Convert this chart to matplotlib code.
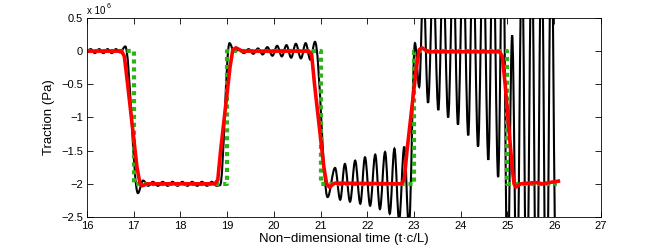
import matplotlib
matplotlib.use('Agg')
import matplotlib.pyplot as plt
from matplotlib.path import Path
from matplotlib.patches import PathPatch

plt.rcParams['font.family'] = ['Liberation Sans', 'DejaVu Sans']

# exact solution (square wave), units of 1e6 Pa
exact_t = [16.0, 17.0, 17.0, 19.0, 19.0, 21.0, 21.0, 23.0, 23.0, 25.0, 25.0, 26.05]
exact_v = [0.0, 0.0, -2.0, -2.0, 0.0, 0.0, -2.0, -2.0, 0.0, 0.0, -2.0, -2.0]

# raw numerical traction: turning points
raw_t = [16.00, 16.08, 16.17, 16.26, 16.35, 16.44, 16.53, 16.62, 16.71, 16.82,
         17.09, 17.20, 17.31, 17.41, 17.52, 17.62, 17.73, 17.83, 17.94, 18.04,
         18.15, 18.25, 18.36, 18.46, 18.57, 18.67, 18.78, 18.85,
         19.05, 19.15, 19.25, 19.36, 19.46, 19.56, 19.66, 19.76, 19.86, 19.97,
         20.07, 20.17, 20.27, 20.37, 20.47, 20.58, 20.68, 20.78, 20.88,
         21.15, 21.31, 21.42, 21.52, 21.63, 21.74, 21.85, 21.95, 22.06, 22.17,
         22.27, 22.38, 22.48, 22.58, 22.68, 22.79, 22.89,
         23.02, 23.11, 23.20, 23.30, 23.41, 23.52, 23.62, 23.73, 23.84, 23.94,
         24.05, 24.16, 24.26, 24.37, 24.48, 24.59, 24.69, 24.80, 24.90,
         25.00, 25.10, 25.20, 25.31, 25.41, 25.52, 25.62, 25.73, 25.83, 25.94, 26.03]
raw_v = [0.00, 0.03, -0.03, 0.03, -0.03, 0.03, -0.03, 0.03, -0.02, 0.07,
         -2.14, -1.95, -2.03, -1.97, -2.03, -1.97, -2.03, -1.97, -2.03, -1.97,
         -2.03, -1.97, -2.03, -1.97, -2.03, -1.97, -2.03, -2.02,
         0.12, -0.01, 0.02, -0.03, 0.03, -0.04, 0.04, -0.05, 0.06, -0.07,
         0.08, -0.08, 0.09, -0.10, 0.11, -0.11, 0.12, -0.13, 0.14,
         -2.20, -1.76, -2.24, -1.70, -2.27, -1.65, -2.30, -1.60, -2.33, -1.56,
         -2.38, -1.52, -2.45, -1.47, -2.55, -1.44, -2.65,
         0.12, -0.54, 1.00, -0.78, 1.10, -0.89, 1.20, -1.00, 1.30, -1.11,
         1.40, -1.27, 1.50, -1.44, 1.60, -1.64, 1.80, -1.90, 2.00,
         -3.50, 0.24, -3.80, 1.50, -4.00, 1.70, -4.20, 1.80, -4.40, 2.00, -3.00]

# filtered traction
filt_t = [16.00, 16.74, 16.80, 16.87, 17.07, 17.13, 17.18, 17.28,
          18.74, 18.80, 18.86, 19.06, 19.12, 19.19, 19.32,
          20.75, 20.81, 20.87, 21.07, 21.13, 21.19, 21.30,
          22.73, 22.79, 22.85, 23.05, 23.11, 23.17, 23.30,
          24.83, 24.89, 24.95, 25.10, 25.14, 25.18, 25.28,
          25.45, 25.60, 25.75, 25.90, 26.09]
filt_v = [0.00, 0.00, -0.08, -0.50, -1.75, -1.98, -2.03, -2.00,
          -2.00, -1.94, -1.50, -0.25, 0.02, 0.05, 0.00,
          0.00, -0.06, -0.50, -1.75, -2.00, -2.05, -1.99,
          -2.00, -1.94, -1.50, -0.25, 0.02, 0.05, -0.01,
          -0.01, -0.08, -0.50, -1.75, -2.00, -2.05, -2.00,
          -1.99, -1.98, -2.00, -1.98, -1.96]


def turning_point_path(t, v):
    """smooth path through turning points (flat tangent at each one)"""
    verts = [(t[0], v[0])]
    codes = [Path.MOVETO]
    for i in range(1, len(t)):
        d = t[i] - t[i - 1]
        verts += [(t[i - 1] + 0.36 * d, v[i - 1]), (t[i] - 0.36 * d, v[i]), (t[i], v[i])]
        codes += [Path.CURVE4] * 3
    return Path(verts, codes)


fig = plt.figure(figsize=(6.64, 2.49), dpi=100)
ax = fig.add_axes([0.131, 0.1285, 0.774, 0.7995])

ax.add_patch(PathPatch(turning_point_path(raw_t, raw_v), facecolor='none',
                       edgecolor='black', lw=1.5))
ax.plot(exact_t, exact_v, color='#2db31a', lw=3, linestyle=(0, (1, 0.9)),
        dash_capstyle='butt')
ax.plot(filt_t, filt_v, color='#ff0000', lw=2.6, solid_joinstyle='round')

ax.set_xlim(16, 27)
ax.set_ylim(-2.5, 0.5)
ax.set_xticks(range(16, 28))
ax.set_yticks([-2.5, -2, -1.5, -1, -0.5, 0, 0.5])
ax.set_yticklabels(['\u22122.5', '\u22122', '\u22121.5', '\u22121', '\u22120.5', '0', '0.5'])
ax.tick_params(direction='in', top=True, right=True, length=4, width=0.6,
               labelsize=8, pad=3)
for s in ax.spines.values():
    s.set_linewidth(0.6)

ax.set_xlabel('Non\u2212dimensional time (t\u00b7c/L)', fontsize=9.5, labelpad=1)
ax.set_ylabel('Traction (Pa)', fontsize=9.5, labelpad=4)

# MATLAB-style exponent label
ax.text(0.0, 1.02, 'x 10', transform=ax.transAxes, fontsize=7, ha='left', va='baseline')
ax.text(0.039, 1.052, '6', transform=ax.transAxes, fontsize=5, ha='left', va='baseline')

fig.savefig('out.png', dpi=100)
